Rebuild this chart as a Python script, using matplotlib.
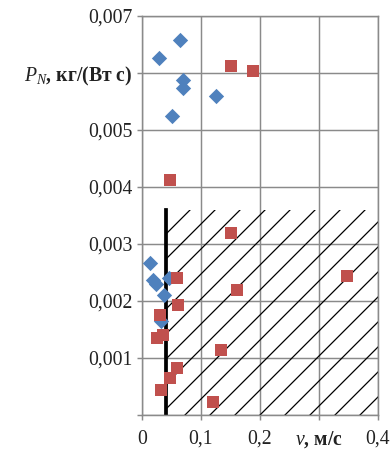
"""P_N vs v scatter with hatched zone."""
import matplotlib
matplotlib.use("Agg")
import matplotlib.pyplot as plt

# blue diamonds
blue_v = [0.065, 0.029, 0.070, 0.070, 0.125, 0.051, 0.014, 0.019, 0.024, 0.038, 0.033, 0.045]
blue_p = [0.00657, 0.00626, 0.00588, 0.00573, 0.0056, 0.00525,
          0.00266, 0.00237, 0.0023, 0.0021, 0.00165, 0.0024]

# red squares
red_v = [0.151, 0.188, 0.048, 0.151, 0.348, 0.161, 0.059, 0.061,
         0.031, 0.025, 0.036, 0.134, 0.059, 0.048, 0.033, 0.121]
red_p = [0.00612, 0.00603, 0.00412, 0.00319, 0.00244, 0.0022, 0.00241, 0.00193,
         0.00175, 0.00135, 0.0014, 0.00114, 0.00082, 0.00065, 0.00044, 0.00023]

# hatched zone boundaries
zone_v = 0.041
zone_p = 0.0036

xticks = [0, 0.1, 0.2, 0.3, 0.4]
xlabels = ["0", "0,1", "0,2", r"$\mathit{v}$, м/с", "0,4"]
yticks = [0, 0.001, 0.002, 0.003, 0.004, 0.005, 0.006, 0.007]
ylabels = ["", "0,001", "0,002", "0,003", "0,004", "0,005",
           r"$\mathit{P}_{\mathit{N}}$, кг/(Вт с)", "0,007"]

plt.rcParams["font.family"] = ["Liberation Serif", "DejaVu Serif"]
plt.rcParams["mathtext.fontset"] = "custom"
plt.rcParams["mathtext.it"] = "Liberation Serif:italic"
plt.rcParams["mathtext.rm"] = "Liberation Serif"
plt.rcParams["hatch.linewidth"] = 0.6
plt.rcParams["hatch.color"] = "black"

fig = plt.figure(figsize=(2.6, 454 / 150), dpi=150)
fig.patch.set_facecolor("white")
ax = fig.add_axes([0.364, 0.086, 0.605, 0.879])

ax.fill_between([zone_v, 0.4], 0, zone_p, facecolor="none", edgecolor="black",
                hatch="//", linewidth=0, zorder=1)
ax.plot([zone_v, zone_v], [0, zone_p], color="black", linewidth=1.8, zorder=2)

ax.scatter(blue_v, blue_p, marker="D", s=27, color="#4F81BD", linewidths=0, zorder=3)
ax.scatter(red_v, red_p, marker="s", s=34, color="#C0504D", linewidths=0, zorder=4)

ax.set_xlim(0, 0.4)
ax.set_ylim(0, 0.007)
ax.set_xticks(xticks)
ax.set_xticklabels(xlabels, fontsize=9.5, color="#222222")
ax.set_yticks(yticks)
ax.set_yticklabels(ylabels, fontsize=9.5, color="#222222")
ax.get_yticklabels()[6].set_fontweight("bold")
ax.get_xticklabels()[3].set_fontweight("bold")

ax.grid(True, color="#8a8a8a", linewidth=0.7)
ax.set_axisbelow(True)
for s in ax.spines.values():
    s.set_color("#8a8a8a")
    s.set_linewidth(0.7)
ax.tick_params(color="#8a8a8a", length=2.5, width=0.7, pad=2)
ax.tick_params(axis="x", pad=4.5)

plt.savefig("out.png", dpi=150, facecolor="white")
